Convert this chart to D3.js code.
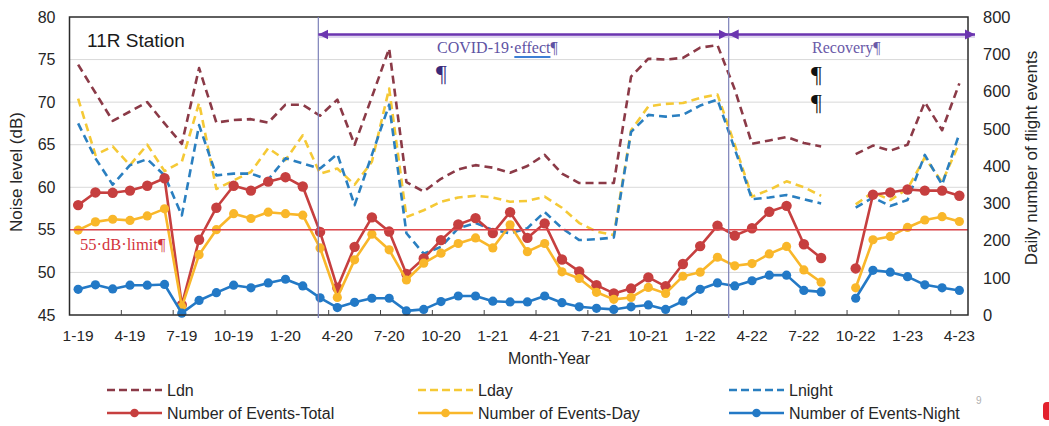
<!DOCTYPE html>
<html>
<head>
<meta charset="utf-8">
<script src="https://cdn.jsdelivr.net/npm/d3@7"></script>
<style>
  html, body { margin: 0; padding: 0; background: #ffffff; }
  svg { display: block; }
</style>
</head>
<body>
<svg id="chart" width="1049" height="426"></svg>
<script>
// ---------------- DATA ----------------
const categories = [
  "1-19","2-19","3-19","4-19","5-19","6-19","7-19","8-19","9-19","10-19","11-19","12-19",
  "1-20","2-20","3-20","4-20","5-20","6-20","7-20","8-20","9-20","10-20","11-20","12-20",
  "1-21","2-21","3-21","4-21","5-21","6-21","7-21","8-21","9-21","10-21","11-21","12-21",
  "1-22","2-22","3-22","4-22","5-22","6-22","7-22","8-22","9-22","10-22","11-22","12-22",
  "1-23","2-23","3-23","4-23"
];
const tickLabels = ["1-19","4-19","7-19","10-19","1-20","4-20","7-20","10-20","1-21","4-21",
  "7-21","10-21","1-22","4-22","7-22","10-22","1-23","4-23"];
const tickMarkCats = ["4-19","7-19","10-19","1-20","4-20","7-20","10-20","1-21","4-21","7-21",
  "10-21","1-22","4-22","7-22","10-22","1-23","4-23"];
const leftTicks = [45,50,55,60,65,70,75,80];
const rightTicks = [0,100,200,300,400,500,600,700,800];

// Noise levels (dB, left axis)
const ldn = [74.4,71.1,67.8,68.9,70.0,67.5,65.1,74.0,67.6,67.9,68.0,67.6,
  69.7,69.7,68.4,70.3,65.0,70.6,76.3,60.6,59.5,61.0,62.1,62.6,
  62.3,61.7,62.5,63.8,61.6,60.5,60.5,60.5,73.0,75.1,75.0,75.2,
  76.4,76.7,71.5,65.1,65.5,65.9,65.2,64.8,null,63.9,64.9,64.3,
  65.0,70.0,66.7,72.2];
const lday = [70.4,63.8,64.8,62.6,65.0,61.9,63.0,69.9,59.8,60.8,61.8,64.6,
  63.2,66.1,61.6,62.2,60.3,63.0,71.6,56.5,57.3,58.3,58.8,59.0,
  58.8,58.3,58.4,58.9,57.6,55.8,54.8,54.4,66.7,69.5,69.8,69.9,
  70.5,70.9,65.0,58.9,59.7,60.7,60.0,59.0,null,58.0,59.4,58.5,
  59.8,63.5,60.6,65.2];
const lnight = [67.5,63.4,60.3,62.6,63.3,61.4,56.7,67.3,61.4,61.6,61.6,60.9,
  63.4,62.8,62.2,63.9,57.9,63.8,69.7,54.6,52.2,53.0,55.2,55.8,
  55.0,54.6,55.2,57.1,55.2,53.8,53.9,54.1,66.5,68.5,68.3,68.5,
  69.6,70.3,64.5,58.6,58.8,59.1,58.6,58.1,null,57.6,58.8,57.8,
  58.5,63.8,60.3,66.3];

// Daily number of flight events (right axis)
const eventsTotal = [295,329,328,334,347,367,27,202,288,347,334,358,
  370,345,223,73,183,262,224,110,152,201,243,260,
  220,276,207,246,149,117,80,58,71,101,77,137,
  185,240,213,233,277,293,190,153,null,125,323,329,
  337,334,334,320];
const eventsDay = [228,250,257,254,266,285,22,162,229,272,259,276,
  272,268,180,47,148,217,175,94,139,166,192,207,
  180,242,170,192,116,98,61,42,47,74,58,104,
  115,155,132,138,164,184,121,88,null,73,202,211,
  235,255,264,251];
const eventsNight = [69,81,70,80,80,82,5,39,60,80,73,86,
  96,78,46,20,34,45,45,11,15,36,51,51,
  37,35,35,51,33,22,18,15,22,27,15,37,
  69,86,78,92,107,107,66,62,null,45,120,115,
  103,81,73,66];

const limitDb = 55;

// ---------------- LAYOUT ----------------
const svg = d3.select("#chart");
const W = 1049, H = 426;
const P = { left: 69.5, right: 968, top: 17, bottom: 315 };
const SANS = "'Liberation Sans', Arial, sans-serif";
const SERIF = "'Liberation Serif', 'Times New Roman', serif";

svg.append("rect").attr("width", W).attr("height", H).attr("fill", "#fff");

const x = d3.scaleBand().domain(categories).range([P.left, P.right]).padding(0);
const xc = c => x(c) + x.bandwidth() / 2;
const yL = d3.scaleLinear().domain([45, 80]).range([P.bottom, P.top]);
const yR = d3.scaleLinear().domain([0, 800]).range([P.bottom, P.top]);

// gridlines
svg.append("g").selectAll("line")
  .data(leftTicks.filter(v => v > 45 && v < 80))
  .join("line")
  .attr("x1", P.left).attr("x2", P.right)
  .attr("y1", d => yL(d)).attr("y2", d => yL(d))
  .attr("stroke", "#d9d9d9").attr("stroke-width", 1);

// ---------------- SERIES ----------------
const dashed = [
  { vals: ldn, color: "#8b3a47" },
  { vals: lday, color: "#f5c936" },
  { vals: lnight, color: "#2a7fc0" }
];
const solid = [
  { vals: eventsTotal, color: "#c63f3f", r: 5.2 },
  { vals: eventsDay, color: "#f9b72a", r: 4.6 },
  { vals: eventsNight, color: "#2379c6", r: 4.6 }
];

dashed.forEach(s => {
  const line = d3.line()
    .defined(d => d != null)
    .x((d, i) => xc(categories[i]))
    .y(d => yL(d));
  svg.append("path")
    .attr("d", line(s.vals))
    .attr("fill", "none")
    .attr("stroke", s.color)
    .attr("stroke-width", 2.6)
    .attr("stroke-dasharray", "8,5")
    .attr("stroke-linejoin", "round");
});

solid.forEach(s => {
  const line = d3.line()
    .defined(d => d != null)
    .x((d, i) => xc(categories[i]))
    .y(d => yR(d));
  svg.append("path")
    .attr("d", line(s.vals))
    .attr("fill", "none")
    .attr("stroke", s.color)
    .attr("stroke-width", 2.6)
    .attr("stroke-linejoin", "round");
  svg.append("g").selectAll("circle")
    .data(s.vals.map((v, i) => ({ v, c: categories[i] })).filter(d => d.v != null))
    .join("circle")
    .attr("cx", d => xc(d.c))
    .attr("cy", d => yR(d.v))
    .attr("r", s.r)
    .attr("fill", s.color);
});

// 55 dB limit line
svg.append("line")
  .attr("x1", P.left).attr("x2", P.right)
  .attr("y1", yL(limitDb)).attr("y2", yL(limitDb))
  .attr("stroke", "#e0474c").attr("stroke-width", 1.5);

// plot border
svg.append("rect")
  .attr("x", P.left).attr("y", P.top)
  .attr("width", P.right - P.left).attr("height", P.bottom - P.top)
  .attr("fill", "none").attr("stroke", "#2b2b2b").attr("stroke-width", 1.5);

// x tick marks (between categories, every 3 months)
svg.append("g").selectAll("line")
  .data(tickMarkCats)
  .join("line")
  .attr("x1", d => x(d)).attr("x2", d => x(d))
  .attr("y1", P.bottom).attr("y2", P.bottom - 5)
  .attr("stroke", "#444").attr("stroke-width", 1);

// ---------------- AXES ----------------
const axB = svg.append("g")
  .attr("transform", `translate(0,${P.bottom})`)
  .call(d3.axisBottom(x).tickValues(tickLabels).tickSize(0).tickPadding(15));
axB.select(".domain").remove();
axB.selectAll("text").attr("font-family", SANS).attr("font-size", 15.5).attr("fill", "#262626");

const axL = svg.append("g")
  .attr("transform", `translate(${P.left},0)`)
  .call(d3.axisLeft(yL).tickValues(leftTicks).tickSize(0).tickPadding(14));
axL.select(".domain").remove();
axL.selectAll("text").attr("font-family", SANS).attr("font-size", 16).attr("fill", "#262626");

const axR = svg.append("g")
  .attr("transform", `translate(${P.right},0)`)
  .call(d3.axisRight(yR).tickValues(rightTicks).tickSize(0).tickPadding(15));
axR.select(".domain").remove();
axR.selectAll("text").attr("font-family", SANS).attr("font-size", 16.5).attr("fill", "#262626");

// axis titles
svg.append("text")
  .attr("transform", `translate(22,${(P.top + P.bottom) / 2 + 6}) rotate(-90)`)
  .attr("text-anchor", "middle").attr("font-family", SANS).attr("font-size", 17)
  .attr("fill", "#262626").text("Noise level (dB)");
svg.append("text")
  .attr("transform", `translate(1037,${(P.top + P.bottom) / 2 - 8}) rotate(-90)`)
  .attr("text-anchor", "middle").attr("font-family", SANS).attr("font-size", 17)
  .attr("fill", "#262626").text("Daily number of flight events");
svg.append("text")
  .attr("x", 549).attr("y", 364)
  .attr("text-anchor", "middle").attr("font-family", SANS).attr("font-size", 16)
  .attr("fill", "#262626").text("Month-Year");

// ---------------- ANNOTATIONS ----------------
svg.append("text")
  .attr("x", 87).attr("y", 47)
  .attr("font-family", SANS).attr("font-size", 19).attr("fill", "#1a1a1a")
  .text("11R Station");

svg.append("text")
  .attr("x", 80).attr("y", 250)
  .attr("font-family", SERIF).attr("font-size", 16.5).attr("fill", "#d3343c")
  .text("55·dB·limit¶");

const xLine1 = x("3-20") + x.bandwidth() * 0.4;
const xLine2 = x("3-22") + x.bandwidth() * 0.15;
[xLine1, xLine2].forEach(xv => {
  svg.append("line")
    .attr("x1", xv).attr("x2", xv).attr("y1", P.top).attr("y2", P.bottom + 3)
    .attr("stroke", "#7c80b8").attr("stroke-width", 1.2);
});

const arrowColor = "#6b35b0";
const defs = svg.append("defs");
defs.append("marker")
  .attr("id", "ah").attr("viewBox", "0 0 10 10")
  .attr("refX", 10).attr("refY", 5)
  .attr("markerWidth", 10).attr("markerHeight", 11)
  .attr("markerUnits", "userSpaceOnUse")
  .attr("orient", "auto-start-reverse")
  .append("path").attr("d", "M0,0 L10,5 L0,10 Z").attr("fill", arrowColor);

const yArrow = 34.5;
const xArrowEnd = P.right + 7;
[[xLine1, xLine2], [xLine2, xArrowEnd]].forEach(([a, b]) => {
  svg.append("line")
    .attr("x1", a).attr("x2", b).attr("y1", yArrow + 1.5).attr("y2", yArrow + 1.5)
    .attr("stroke", "#cbbde6").attr("stroke-width", 4).attr("opacity", 0.6);
  svg.append("line")
    .attr("x1", a).attr("x2", b).attr("y1", yArrow).attr("y2", yArrow)
    .attr("stroke", arrowColor).attr("stroke-width", 2.6)
    .attr("marker-start", "url(#ah)").attr("marker-end", "url(#ah)");
});

// COVID label with spell-check underline on "effect"
const covid = svg.append("text")
  .attr("x", 437).attr("y", 53)
  .attr("font-family", SERIF).attr("font-size", 16).attr("fill", "#5e53a3")
  .text("COVID-19·effect¶");
try {
  const node = covid.node();
  const s0 = node.getSubStringLength(0, 9);
  const s1 = node.getSubStringLength(9, 6);
  svg.append("line")
    .attr("x1", 437 + s0).attr("x2", 437 + s0 + s1)
    .attr("y1", 57).attr("y2", 57)
    .attr("stroke", "#3d7fd4").attr("stroke-width", 2);
} catch (e) {}

svg.append("text")
  .attr("x", 436).attr("y", 81)
  .attr("font-family", SERIF).attr("font-size", 24).attr("fill", "#3b2a7a")
  .text("¶");

svg.append("text")
  .attr("x", 812).attr("y", 53)
  .attr("font-family", SERIF).attr("font-size", 16).attr("fill", "#6a5aa8")
  .text("Recovery¶");
svg.append("text")
  .attr("x", 811).attr("y", 82)
  .attr("font-family", SERIF).attr("font-size", 24).attr("fill", "#111")
  .text("¶");
svg.append("text")
  .attr("x", 811).attr("y", 110)
  .attr("font-family", SERIF).attr("font-size", 24).attr("fill", "#111")
  .text("¶");

// ---------------- LEGEND ----------------
const legendNames = ["Ldn", "Lday", "Lnight", "Number of Events-Total", "Number of Events-Day", "Number of Events-Night"];
const legendItems = [
  { name: legendNames[0], color: dashed[0].color, dash: true },
  { name: legendNames[1], color: dashed[1].color, dash: true },
  { name: legendNames[2], color: dashed[2].color, dash: true },
  { name: legendNames[3], color: solid[0].color, dash: false },
  { name: legendNames[4], color: solid[1].color, dash: false },
  { name: legendNames[5], color: solid[2].color, dash: false }
];
const legX = [107, 418, 729];
const legY = [390, 413];
legendItems.forEach((it, i) => {
  const gx = legX[i % 3], gy = legY[Math.floor(i / 3)];
  const g = svg.append("g");
  g.append("line")
    .attr("x1", gx).attr("x2", gx + 55).attr("y1", gy).attr("y2", gy)
    .attr("stroke", it.color).attr("stroke-width", 2.6)
    .attr("stroke-dasharray", it.dash ? "8,4" : null);
  if (!it.dash) {
    g.append("circle").attr("cx", gx + 27.5).attr("cy", gy).attr("r", 4.3).attr("fill", it.color);
  }
  g.append("text")
    .attr("x", gx + 60).attr("y", gy).attr("dy", "0.36em")
    .attr("font-family", SANS).attr("font-size", 16).attr("fill", "#262626")
    .text(it.name);
});

// page residue marks
svg.append("text")
  .attr("x", 976).attr("y", 404)
  .attr("font-family", SANS).attr("font-size", 10).attr("fill", "#b0b0b0")
  .text("9");
svg.append("rect")
  .attr("x", 1043).attr("y", 402).attr("width", 9).attr("height", 18)
  .attr("rx", 4).attr("fill", "#e3202c");
</script>
</body>
</html>
